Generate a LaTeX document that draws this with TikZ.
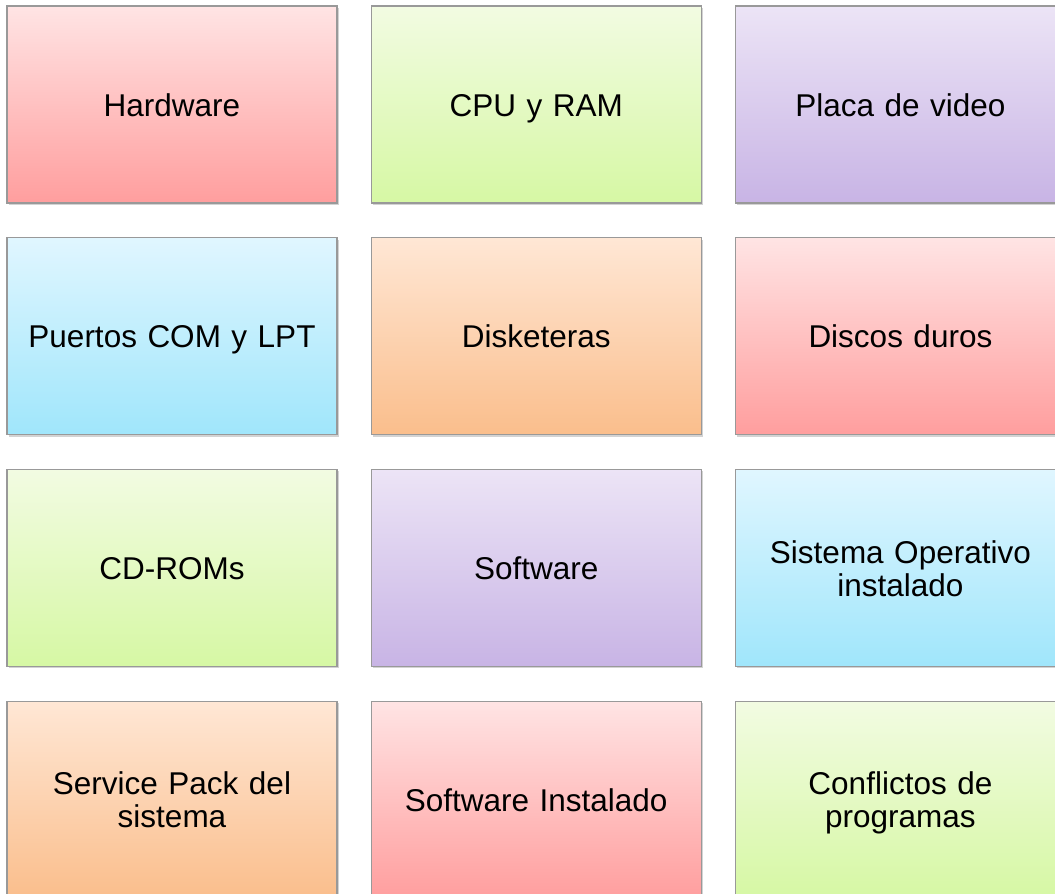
\documentclass[tikz,border=0pt]{standalone}
\usepackage{fontspec}
\setmainfont{Liberation Sans}
\usepackage{tikz}
\usetikzlibrary{positioning,shadows}

\definecolor{redtop}{RGB}{255,228,228}
\definecolor{redbot}{RGB}{255,158,158}
\definecolor{greentop}{RGB}{242,251,226}
\definecolor{greenbot}{RGB}{214,248,164}
\definecolor{purptop}{RGB}{236,228,246}
\definecolor{purpbot}{RGB}{200,180,229}
\definecolor{bluetop}{RGB}{224,246,255}
\definecolor{bluebot}{RGB}{160,230,251}
\definecolor{orangetop}{RGB}{255,231,213}
\definecolor{orangebot}{RGB}{250,190,140}

\tikzset{
  tile/.style={rectangle, draw=gray!80, line width=0.6pt,
    minimum width=165pt, minimum height=98.5pt, inner sep=2pt,
    align=center, text width=160pt,
    font=\fontsize{15.75}{16.5}\selectfont,
    execute at begin node={\rule{0pt}{15.2pt}},
    execute at end node={\rule[-3.6pt]{0pt}{0pt}},
    drop shadow={shadow xshift=0.8pt, shadow yshift=-1pt, opacity=0.35}},
  redtile/.style={tile, top color=redtop, bottom color=redbot},
  greentile/.style={tile, top color=greentop, bottom color=greenbot},
  purptile/.style={tile, top color=purptop, bottom color=purpbot},
  bluetile/.style={tile, top color=bluetop, bottom color=bluebot},
  orangetile/.style={tile, top color=orangetop, bottom color=orangebot},
}

\begin{document}
\begin{tikzpicture}[node distance=16.75pt and 16.5pt]
  \useasboundingbox (0,0) rectangle (527.5pt,-447pt);
  \clip (0,0) rectangle (527.5pt,-447pt);

  % row 1
  \node[redtile] (hw) at (86pt,-52.25pt) {Hardware};
  \node[greentile, right=of hw] (cpu) {CPU y RAM};
  \node[purptile, right=of cpu] (video) {Placa de video};

  % row 2
  \node[bluetile, below=of hw] (ports) {Puertos COM y LPT};
  \node[orangetile, right=of ports] (floppy) {Disketeras};
  \node[redtile, right=of floppy] (disks) {Discos duros};

  % row 3
  \node[greentile, below=of ports] (cdrom) {CD-ROMs};
  \node[purptile, right=of cdrom] (sw) {Software};
  \node[bluetile, right=of sw] (os) {Sistema Operativo\\instalado};

  % row 4
  \node[orangetile, below=of cdrom] (sp) {Service Pack del\\sistema};
  \node[redtile, right=of sp] (swinst) {Software Instalado};
  \node[greentile, right=of swinst] (conf) {Conflictos de\\programas};
\end{tikzpicture}
\end{document}
